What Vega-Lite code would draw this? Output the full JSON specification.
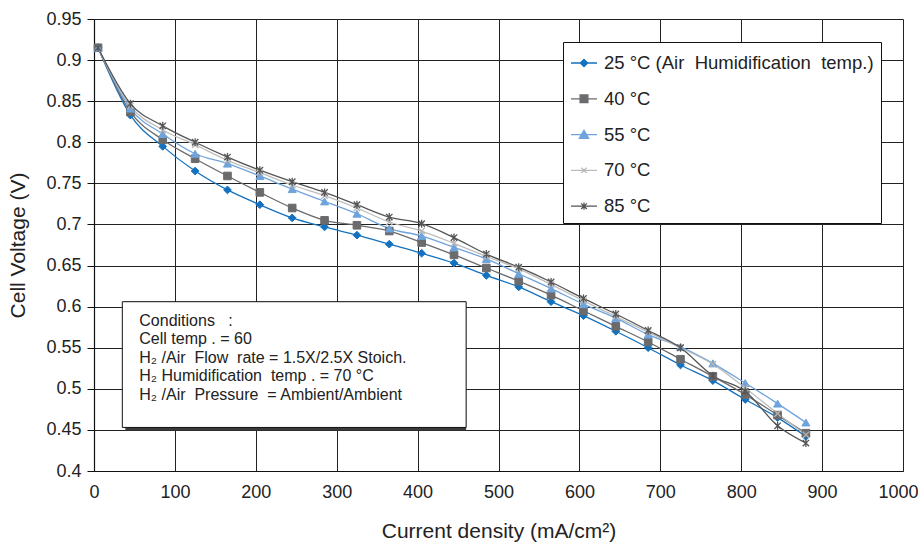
{
  "$schema": "https://vega.github.io/schema/vega-lite/v6.json",
  "width": 809,
  "height": 452,
  "autosize": {"type": "none"},
  "padding": {"left": 94, "top": 19, "right": 15, "bottom": 72},
  "background": "white",
  "config": {
    "view": {"stroke": null},
    "font": "Liberation Sans",
    "axis": {
      "labelFont": "Liberation Sans",
      "titleFont": "Liberation Sans",
      "labelColor": "#222",
      "titleColor": "#222",
      "titleFontWeight": "normal",
      "gridColor": "#222",
      "gridOpacity": 1,
      "gridWidth": 1,
      "domainColor": "#111",
      "tickColor": "#111"
    }
  },
  "datasets": {
    "curves": [
      {"series": "25 °C (Air\u00a0\u00a0Humidification\u00a0\u00a0temp.)", "x": 5, "y": 0.915},
      {"series": "25 °C (Air\u00a0\u00a0Humidification\u00a0\u00a0temp.)", "x": 45, "y": 0.833},
      {"series": "25 °C (Air\u00a0\u00a0Humidification\u00a0\u00a0temp.)", "x": 85, "y": 0.795},
      {"series": "25 °C (Air\u00a0\u00a0Humidification\u00a0\u00a0temp.)", "x": 125, "y": 0.765},
      {"series": "25 °C (Air\u00a0\u00a0Humidification\u00a0\u00a0temp.)", "x": 165, "y": 0.742},
      {"series": "25 °C (Air\u00a0\u00a0Humidification\u00a0\u00a0temp.)", "x": 205, "y": 0.724},
      {"series": "25 °C (Air\u00a0\u00a0Humidification\u00a0\u00a0temp.)", "x": 245, "y": 0.708},
      {"series": "25 °C (Air\u00a0\u00a0Humidification\u00a0\u00a0temp.)", "x": 285, "y": 0.697},
      {"series": "25 °C (Air\u00a0\u00a0Humidification\u00a0\u00a0temp.)", "x": 325, "y": 0.687},
      {"series": "25 °C (Air\u00a0\u00a0Humidification\u00a0\u00a0temp.)", "x": 365, "y": 0.676},
      {"series": "25 °C (Air\u00a0\u00a0Humidification\u00a0\u00a0temp.)", "x": 405, "y": 0.665},
      {"series": "25 °C (Air\u00a0\u00a0Humidification\u00a0\u00a0temp.)", "x": 445, "y": 0.653},
      {"series": "25 °C (Air\u00a0\u00a0Humidification\u00a0\u00a0temp.)", "x": 485, "y": 0.638},
      {"series": "25 °C (Air\u00a0\u00a0Humidification\u00a0\u00a0temp.)", "x": 525, "y": 0.624},
      {"series": "25 °C (Air\u00a0\u00a0Humidification\u00a0\u00a0temp.)", "x": 565, "y": 0.606},
      {"series": "25 °C (Air\u00a0\u00a0Humidification\u00a0\u00a0temp.)", "x": 605, "y": 0.589},
      {"series": "25 °C (Air\u00a0\u00a0Humidification\u00a0\u00a0temp.)", "x": 645, "y": 0.570},
      {"series": "25 °C (Air\u00a0\u00a0Humidification\u00a0\u00a0temp.)", "x": 685, "y": 0.550},
      {"series": "25 °C (Air\u00a0\u00a0Humidification\u00a0\u00a0temp.)", "x": 725, "y": 0.529},
      {"series": "25 °C (Air\u00a0\u00a0Humidification\u00a0\u00a0temp.)", "x": 765, "y": 0.510},
      {"series": "25 °C (Air\u00a0\u00a0Humidification\u00a0\u00a0temp.)", "x": 805, "y": 0.487},
      {"series": "25 °C (Air\u00a0\u00a0Humidification\u00a0\u00a0temp.)", "x": 845, "y": 0.465},
      {"series": "25 °C (Air\u00a0\u00a0Humidification\u00a0\u00a0temp.)", "x": 880, "y": 0.442},
      {"series": "40 °C", "x": 5, "y": 0.915},
      {"series": "40 °C", "x": 45, "y": 0.837},
      {"series": "40 °C", "x": 85, "y": 0.803},
      {"series": "40 °C", "x": 125, "y": 0.780},
      {"series": "40 °C", "x": 165, "y": 0.759},
      {"series": "40 °C", "x": 205, "y": 0.739},
      {"series": "40 °C", "x": 245, "y": 0.720},
      {"series": "40 °C", "x": 285, "y": 0.705},
      {"series": "40 °C", "x": 325, "y": 0.699},
      {"series": "40 °C", "x": 365, "y": 0.692},
      {"series": "40 °C", "x": 405, "y": 0.678},
      {"series": "40 °C", "x": 445, "y": 0.663},
      {"series": "40 °C", "x": 485, "y": 0.647},
      {"series": "40 °C", "x": 525, "y": 0.631},
      {"series": "40 °C", "x": 565, "y": 0.614},
      {"series": "40 °C", "x": 605, "y": 0.595},
      {"series": "40 °C", "x": 645, "y": 0.576},
      {"series": "40 °C", "x": 685, "y": 0.557},
      {"series": "40 °C", "x": 725, "y": 0.536},
      {"series": "40 °C", "x": 765, "y": 0.515},
      {"series": "40 °C", "x": 805, "y": 0.493},
      {"series": "40 °C", "x": 845, "y": 0.468},
      {"series": "40 °C", "x": 880, "y": 0.446},
      {"series": "55 °C", "x": 5, "y": 0.915},
      {"series": "55 °C", "x": 45, "y": 0.841},
      {"series": "55 °C", "x": 85, "y": 0.810},
      {"series": "55 °C", "x": 125, "y": 0.786},
      {"series": "55 °C", "x": 165, "y": 0.774},
      {"series": "55 °C", "x": 205, "y": 0.759},
      {"series": "55 °C", "x": 245, "y": 0.743},
      {"series": "55 °C", "x": 285, "y": 0.728},
      {"series": "55 °C", "x": 325, "y": 0.713},
      {"series": "55 °C", "x": 365, "y": 0.695},
      {"series": "55 °C", "x": 405, "y": 0.686},
      {"series": "55 °C", "x": 445, "y": 0.672},
      {"series": "55 °C", "x": 485, "y": 0.658},
      {"series": "55 °C", "x": 525, "y": 0.640},
      {"series": "55 °C", "x": 565, "y": 0.622},
      {"series": "55 °C", "x": 605, "y": 0.603},
      {"series": "55 °C", "x": 645, "y": 0.586},
      {"series": "55 °C", "x": 685, "y": 0.566},
      {"series": "55 °C", "x": 725, "y": 0.551},
      {"series": "55 °C", "x": 765, "y": 0.531},
      {"series": "55 °C", "x": 805, "y": 0.507},
      {"series": "55 °C", "x": 845, "y": 0.482},
      {"series": "55 °C", "x": 880, "y": 0.459},
      {"series": "70 °C", "x": 5, "y": 0.915},
      {"series": "70 °C", "x": 45, "y": 0.844},
      {"series": "70 °C", "x": 85, "y": 0.815},
      {"series": "70 °C", "x": 125, "y": 0.797},
      {"series": "70 °C", "x": 165, "y": 0.778},
      {"series": "70 °C", "x": 205, "y": 0.763},
      {"series": "70 °C", "x": 245, "y": 0.748},
      {"series": "70 °C", "x": 285, "y": 0.735},
      {"series": "70 °C", "x": 325, "y": 0.720},
      {"series": "70 °C", "x": 365, "y": 0.703},
      {"series": "70 °C", "x": 405, "y": 0.692},
      {"series": "70 °C", "x": 445, "y": 0.677},
      {"series": "70 °C", "x": 485, "y": 0.661},
      {"series": "70 °C", "x": 525, "y": 0.646},
      {"series": "70 °C", "x": 565, "y": 0.627},
      {"series": "70 °C", "x": 605, "y": 0.607},
      {"series": "70 °C", "x": 645, "y": 0.588},
      {"series": "70 °C", "x": 685, "y": 0.569},
      {"series": "70 °C", "x": 725, "y": 0.550},
      {"series": "70 °C", "x": 765, "y": 0.530},
      {"series": "70 °C", "x": 805, "y": 0.501},
      {"series": "70 °C", "x": 845, "y": 0.470},
      {"series": "70 °C", "x": 880, "y": 0.444},
      {"series": "85 °C", "x": 5, "y": 0.915},
      {"series": "85 °C", "x": 45, "y": 0.847},
      {"series": "85 °C", "x": 85, "y": 0.820},
      {"series": "85 °C", "x": 125, "y": 0.800},
      {"series": "85 °C", "x": 165, "y": 0.782},
      {"series": "85 °C", "x": 205, "y": 0.766},
      {"series": "85 °C", "x": 245, "y": 0.752},
      {"series": "85 °C", "x": 285, "y": 0.739},
      {"series": "85 °C", "x": 325, "y": 0.724},
      {"series": "85 °C", "x": 365, "y": 0.709},
      {"series": "85 °C", "x": 405, "y": 0.701},
      {"series": "85 °C", "x": 445, "y": 0.684},
      {"series": "85 °C", "x": 485, "y": 0.664},
      {"series": "85 °C", "x": 525, "y": 0.648},
      {"series": "85 °C", "x": 565, "y": 0.630},
      {"series": "85 °C", "x": 605, "y": 0.610},
      {"series": "85 °C", "x": 645, "y": 0.591},
      {"series": "85 °C", "x": 685, "y": 0.571},
      {"series": "85 °C", "x": 725, "y": 0.550},
      {"series": "85 °C", "x": 765, "y": 0.516},
      {"series": "85 °C", "x": 805, "y": 0.497},
      {"series": "85 °C", "x": 845, "y": 0.455},
      {"series": "85 °C", "x": 880, "y": 0.434}
    ],
    "box": [{"x1": 35, "x2": 460, "y1": 0.453, "y2": 0.606}],
    "notes": [
      {"line": "Conditions\u00a0\u00a0\u00a0:", "x": 56, "y": 0.576},
      {"line": "Cell temp\u00a0. = 60", "x": 56, "y": 0.554},
      {"line": "H₂ /Air\u00a0\u00a0Flow\u00a0\u00a0rate = 1.5X/2.5X Stoich.", "x": 56, "y": 0.532},
      {"line": "H₂ Humidification\u00a0\u00a0temp\u00a0. = 70 °C", "x": 56, "y": 0.509},
      {"line": "H₂ /Air\u00a0\u00a0Pressure\u00a0\u00a0= Ambient/Ambient", "x": 56, "y": 0.487}
    ]
  },
  "layer": [
    {
      "data": {"name": "curves"},
      "mark": {"type": "line", "interpolate": "monotone", "strokeWidth": 1.3},
      "encoding": {
        "x": {
          "field": "x", "type": "quantitative",
          "title": "Current density (mA/cm²)",
          "scale": {"domain": [0, 1000], "nice": false, "zero": false},
          "axis": {
            "values": [0, 100, 200, 300, 400, 500, 600, 700, 800, 900, 1000],
            "format": "d", "labelFlush": false, "labelBound": false, "labelOverlap": false,
            "labelOffset": {"expr": "datum.value == 1000 ? -5 : 0"},
            "ticks": false, "labelPadding": 12, "labelFontSize": 18,
            "titleFontSize": 21, "titlePadding": 19, "domainWidth": 1.2
          }
        },
        "y": {
          "field": "y", "type": "quantitative",
          "title": "Cell Voltage (V)",
          "scale": {"domain": [0.4, 0.95], "nice": false, "zero": false},
          "axis": {
            "values": [0.4, 0.45, 0.5, 0.55, 0.6, 0.65, 0.7, 0.75, 0.8, 0.85, 0.9, 0.95],
            "format": ".2~f", "labelFlush": false, "labelOverlap": false,
            "tickSize": 7, "labelPadding": 6, "labelFontSize": 18,
            "titleFontSize": 21, "titlePadding": 17, "domainWidth": 1.2
          }
        },
        "stroke": {
          "field": "series", "type": "nominal",
          "scale": {
            "domain": ["25 °C (Air\u00a0\u00a0Humidification\u00a0\u00a0temp.)", "40 °C", "55 °C", "70 °C", "85 °C"],
            "range": ["#1372c0", "#6b6b6d", "#6fa3db", "#bdbdbd", "#555555"]
          },
          "legend": {
            "title": null,
            "orient": "none",
            "legendX": 469,
            "legendY": 23,
            "fillColor": "white",
            "strokeColor": "#111",
            "padding": 7,
            "rowPadding": 11.8,
            "labelFont": "Liberation Sans",
            "labelFontSize": 18.5,
            "labelColor": "#222",
            "labelOffset": 6,
            "labelLimit": 400,
            "symbolSize": 676,
            "symbolStrokeWidth": 1.3,
            "symbolOpacity": 1,
            "encode": {
              "symbols": {
                "update": {
                  "shape": {"signal": "['M-1,0H1M0,-0.28L0.28,0L0,0.28L-0.28,0Z','M-1,0H1M-0.3,-0.3H0.3V0.3H-0.3Z','M-1,0H1M0,-0.33L0.36,0.28H-0.36Z','M-1,0H1M-0.2,-0.2L0.2,0.2M-0.2,0.2L0.2,-0.2','M-1,0H1M-0.22,-0.22L0.22,0.22M-0.22,0.22L0.22,-0.22M0,-0.28V0.28'][datum.index]"},
                  "fill": {"scale": "stroke", "field": "value"},
                  "stroke": {"scale": "stroke", "field": "value"},
                  "strokeWidth": {"value": 1.3},
                  "size": {"value": 676},
                  "opacity": {"value": 1}
                }
              }
            }
          }
        }
      }
    },
    {
      "data": {"name": "curves"},
      "transform": [{"filter": {"field": "series", "equal": "25 °C (Air\u00a0\u00a0Humidification\u00a0\u00a0temp.)"}}],
      "mark": {"type": "point", "shape": "M0,-1L1,0L0,1L-1,0Z", "filled": true, "size": 60, "opacity": 1, "color": "#1372c0", "stroke": "#1372c0", "strokeWidth": 1},
      "encoding": {
        "x": {"field": "x", "type": "quantitative", "title": "Current density (mA/cm²)"},
        "y": {"field": "y", "type": "quantitative", "title": "Cell Voltage (V)"}
      }
    },
    {
      "data": {"name": "curves"},
      "transform": [{"filter": {"field": "series", "equal": "40 °C"}}],
      "mark": {"type": "point", "shape": "square", "filled": true, "size": 58, "opacity": 1, "color": "#6b6b6d", "stroke": "#6b6b6d", "strokeWidth": 1},
      "encoding": {
        "x": {"field": "x", "type": "quantitative", "title": "Current density (mA/cm²)"},
        "y": {"field": "y", "type": "quantitative", "title": "Cell Voltage (V)"}
      }
    },
    {
      "data": {"name": "curves"},
      "transform": [{"filter": {"field": "series", "equal": "55 °C"}}],
      "mark": {"type": "point", "shape": "triangle-up", "filled": true, "size": 64, "opacity": 1, "color": "#6fa3db", "stroke": "#6fa3db", "strokeWidth": 1},
      "encoding": {
        "x": {"field": "x", "type": "quantitative", "title": "Current density (mA/cm²)"},
        "y": {"field": "y", "type": "quantitative", "title": "Cell Voltage (V)"}
      }
    },
    {
      "data": {"name": "curves"},
      "transform": [{"filter": {"field": "series", "equal": "70 °C"}}],
      "mark": {"type": "point", "shape": "M-0.8,-0.8L0.8,0.8M-0.8,0.8L0.8,-0.8", "filled": false, "size": 64, "opacity": 1, "stroke": "#b5b5b5", "strokeWidth": 1.3},
      "encoding": {
        "x": {"field": "x", "type": "quantitative", "title": "Current density (mA/cm²)"},
        "y": {"field": "y", "type": "quantitative", "title": "Cell Voltage (V)"}
      }
    },
    {
      "data": {"name": "curves"},
      "transform": [{"filter": {"field": "series", "equal": "85 °C"}}],
      "mark": {"type": "point", "shape": "M-0.8,-0.8L0.8,0.8M-0.8,0.8L0.8,-0.8M0,-1V1", "filled": false, "size": 64, "opacity": 1, "stroke": "#555555", "strokeWidth": 1.3},
      "encoding": {
        "x": {"field": "x", "type": "quantitative", "title": "Current density (mA/cm²)"},
        "y": {"field": "y", "type": "quantitative", "title": "Cell Voltage (V)"}
      }
    },
    {
      "data": {"name": "box"},
      "mark": {"type": "rect", "fill": "#3a3a3a", "xOffset": 3, "yOffset": 3},
      "encoding": {
        "x": {"field": "x1", "type": "quantitative", "title": "Current density (mA/cm²)"},
        "x2": {"field": "x2"},
        "y": {"field": "y1", "type": "quantitative", "title": "Cell Voltage (V)"},
        "y2": {"field": "y2"}
      }
    },
    {
      "data": {"name": "box"},
      "mark": {"type": "rect", "fill": "white", "stroke": "#111", "strokeWidth": 1},
      "encoding": {
        "x": {"field": "x1", "type": "quantitative", "title": "Current density (mA/cm²)"},
        "x2": {"field": "x2"},
        "y": {"field": "y1", "type": "quantitative", "title": "Cell Voltage (V)"},
        "y2": {"field": "y2"}
      }
    },
    {
      "data": {"name": "notes"},
      "mark": {"type": "text", "align": "left", "baseline": "alphabetic", "fontSize": 16, "font": "Liberation Sans", "color": "#222"},
      "encoding": {
        "x": {"field": "x", "type": "quantitative", "title": "Current density (mA/cm²)"},
        "y": {"field": "y", "type": "quantitative", "title": "Cell Voltage (V)"},
        "text": {"field": "line"}
      }
    }
  ]
}
